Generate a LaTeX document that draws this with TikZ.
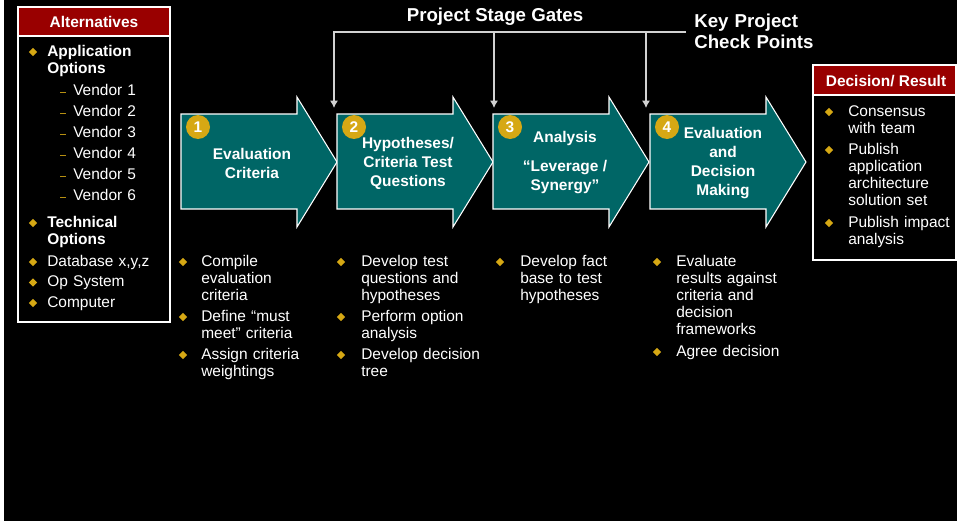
\documentclass[tikz,border=0pt]{standalone}
\usepackage{fontspec}
\setmainfont{Liberation Sans}
\usetikzlibrary{shapes.geometric, arrows.meta}

\definecolor{stageteal}{RGB}{0,102,102}
\definecolor{gold}{RGB}{214,168,20}
\definecolor{boxred}{RGB}{153,0,0}
\definecolor{gategray}{RGB}{210,210,210}

\newcommand{\bodyfont}{\fontsize{11.6}{12.75}\selectfont}

\begin{document}
\begin{tikzpicture}[
x=0.75pt, y=-0.75pt,
>={Latex[length=5.5pt,width=6pt]},
txt/.style = {% list text
    text=white, inner sep=0pt, anchor=base west, align=left,
    text width=125pt, font=\bodyfont,
            },
bul/.style = {% gold diamond bullet
    diamond, fill=gold, inner sep=0pt, minimum size=6.5pt,
            },
dsh/.style = {% gold dash of sub items
    fill=gold!85!black, inner sep=0pt, minimum width=4pt, minimum height=0.6pt,
            },
stage/.style = {fill=stageteal, draw=white, line width=0.8pt},
lbl/.style = {% text inside the stage arrows
    text=white, align=center, inner sep=0pt,
    font=\fontsize{11.6}{14.25}\selectfont\bfseries,
            },
num/.style = {circle, fill=gold, text=white, inner sep=0pt,
    minimum size=18pt, font=\bodyfont\bfseries},
head/.style = {text=white, inner sep=0pt, font=\bodyfont\bfseries},
big/.style = {text=white, inner sep=0pt,
    font=\fontsize{14}{15.75}\selectfont\bfseries},
gate/.style = {draw=gategray, line width=0.9pt},
                        ]
\useasboundingbox (0,0) rectangle (957,521);
% background
\fill[black] (0,0) rectangle (957,521);
\fill[white] (0,0) rectangle (4,521);
% boxes at the sides
\fill[boxred] (18,7) rectangle (170,36);
\draw[white, line width=1pt] (18,7) rectangle (170,322) (18,36) -- (170,36);
\fill[boxred] (813,65) rectangle (956,95);
\draw[white, line width=1pt] (813,65) rectangle (956,260) (813,95) -- (956,95);
\node[head] (alt) at (94,22) {Alternatives};
\node[head] (dec) at (886,81) {Decision/ Result};
% stage arrows
\foreach \xs [count=\i] in {181,337,493,650}{
    \draw[stage] (\xs,114) -- (\xs+116,114) -- (\xs+116,97) -- (\xs+156,162)
        -- (\xs+116,227) -- (\xs+116,209) -- (\xs,209) -- cycle;
    \node[num] (n\i) at (\xs+17,127) {\i};
}
\node[lbl] (s1) at (252,163) {Evaluation\\Criteria};
\node[lbl] (s2) at (408,163) {Hypotheses/\\Criteria Test\\Questions};
\node[lbl] (s3) at (565,163) {Analysis\\[7.5pt]“Leverage /\\Synergy”};
\node[lbl] (s4) at (723,163) {Evaluation\\and\\Decision\\Making};
% gates
\node[big] (gates) at (495,17) {Project Stage Gates};
\node[big, anchor=base west, align=left, text width=100pt] (key) at (694,27)
    {Key Project\\Check Points};
\coordinate (gR) at (686,32);
\coordinate (gL) at (334,32);
\coordinate (gM) at (494,32);
\coordinate (gN) at (646,32);
\coordinate (g1) at (334,108);
\coordinate (g2) at (494,108);
\coordinate (g3) at (646,108);
\draw[gate,->] (gR) -- (gL) -- (g1);
\draw[gate,->] (gM) -- (g2);
\draw[gate,->] (gN) -- (g3);
% alternatives
\node[bul] (a1) at (33,52) {};
\node[txt, font=\bodyfont\bfseries] (at1) at (47,56.5) {Application\\Options};
\foreach \v [count=\i] in {95,116,137,158,179,200}{
    \node[dsh] (d\i) at (63,\v-3) {};
    \node[txt] (v\i) at (73,\v) {Vendor \i};
}
\node[bul] (a2) at (33,223) {};
\node[txt, font=\bodyfont\bfseries] (at2) at (47,227) {Technical\\Options};
% bullet lists
\foreach \bx/\tx/\by/\t [count=\i] in {
    33/47/266/{Database x,y,z},
    33/47/286.5/{Op System},
    33/47/307/{Computer},
    183/201/266/{Compile\\evaluation\\criteria},
    183/201/321/{Define “must\\meet” criteria},
    183/201/359/{Assign criteria\\weightings},
    341/361/266/{Develop test\\questions and\\hypotheses},
    341/361/321/{Perform option\\analysis},
    341/361/359/{Develop decision\\tree},
    500/520/266/{Develop fact\\base to test\\hypotheses},
    657/676/266/{Evaluate\\results against\\criteria and\\decision\\frameworks},
    657/676/356/{Agree decision},
    829/848/116/{Consensus\\with team},
    829/848/154/{Publish\\application\\architecture\\solution set},
    829/848/227/{Publish impact\\analysis}}{
    \node[bul] (b\i) at (\bx,\by-4) {};
    \node[txt] (t\i) at (\tx,\by) {\t};
}
\end{tikzpicture}
\end{document}
